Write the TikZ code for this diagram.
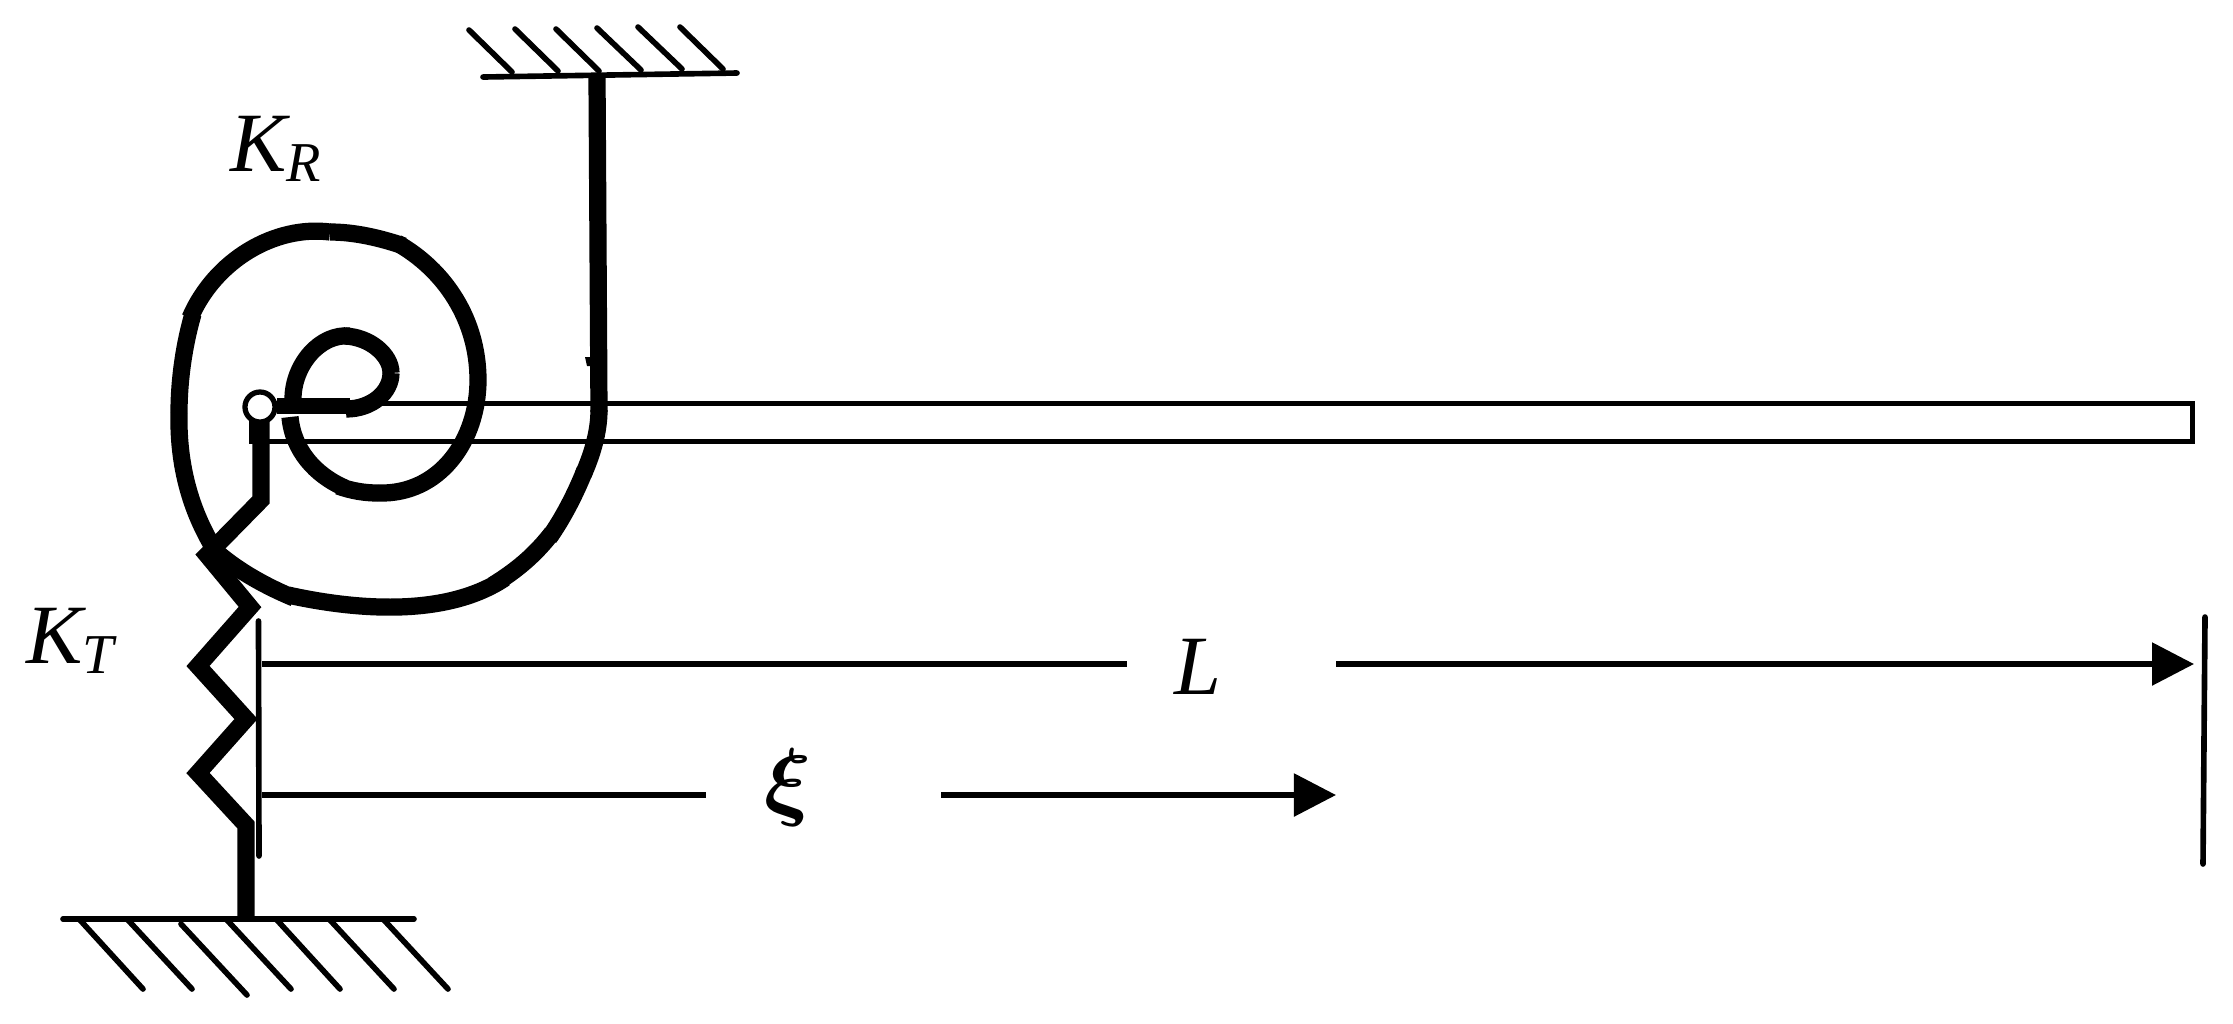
\documentclass[tikz,border=0pt]{standalone}
\usepackage{fontspec}
\setmainfont{Liberation Serif}
\usetikzlibrary{arrows.meta}
\tikzset{
    thinline/.style={line width=1.6pt,line cap=round},
    beamline/.style={line width=1.6pt},
    thickline/.style={line width=4.9pt},
    dimline/.style={line width=1.6pt},
    dimarrow/.style={line width=1.6pt,-{Triangle[length=0.42cm,width=0.42cm]}},
    symbol/.style={inner sep=0pt,anchor=base west,font=\fontsize{24}{24}\selectfont\itshape},
    pivot/.style={circle,draw,fill=white,line width=1.5pt,minimum size=0.3cm,inner sep=0pt},
}
\newcommand{\lowsub}[1]{\raisebox{-3pt}{\fontsize{16}{16}\selectfont #1}}
\begin{document}
\boldmath
\begin{tikzpicture}[x=0.01cm,y=-0.01cm]
    \useasboundingbox (0,0) rectangle (2233,1023);
    % beam
    \draw[beamline] (265,403.5) rectangle (2192.5,441.5);
    % upper wall
    \draw[thinline] (483,77) -- (737,73);
    \draw[thinline] (469,30) -- (512,72);
    \draw[thinline] (515,29) -- (558,71);
    \draw[thinline] (556,29) -- (599,71);
    \draw[thinline] (597,28) -- (641,70);
    \draw[thinline] (638,27) -- (682,69);
    \draw[thinline] (680,27) -- (723,69);
    % lower wall
    \draw[thinline] (63,919) -- (414,919);
    \draw[thinline] (80,920) -- (143,989);
    \draw[thinline] (128,920) -- (192,989);
    \draw[thinline] (181,924) -- (247,995);
    \draw[thinline] (227,920) -- (291,989);
    \draw[thinline] (277,920) -- (340,989);
    \draw[thinline] (330,920) -- (394,989);
    \draw[thinline] (384,920) -- (448,989);
    % rotational spring, outer turns
    \draw[thickline] (597,77) -- (599,412);
    \fill (585,357) -- (591,357) -- (591,366) -- (587,366) -- cycle;
    \draw[thickline] (599,410) .. controls (599,432) and (592,455) .. (583,475);
    \draw[thickline] (585,470) .. controls (575,495) and (563,518) .. (549,538);
    \draw[thickline] (552,533) .. controls (535,555) and (517,570) .. (493,585);
    \draw[thickline] (505,578) .. controls (450,615) and (365,612) .. (288,595);
    \draw[thickline] (294,598) .. controls (270,588) and (238,572) .. (212,548);
    \draw[thickline] (213,547) .. controls (188,505) and (178,460) .. (179,413);
    \draw[thickline] (179,413) .. controls (179,380) and (184,345) .. (193,314);
    \draw[thickline] (190,318) .. controls (215,260) and (275,225) .. (330,232);
    \draw[thickline] (330,232) .. controls (355,232) and (380,238) .. (404,246);
    % rotational spring, inner turns
    \draw[thickline] (397,243) .. controls (445,270) and (478,320) .. (478,380);
    \draw[thickline] (478,380) .. controls (478,440) and (440,495) .. (378,493);
    \draw[thickline] (378,493) .. controls (365,493) and (352,491) .. (338,486);
    \draw[thickline] (345,488) .. controls (315,475) and (293,450) .. (290,417);
    \draw[thickline] (293,399) .. controls (293,365) and (320,333) .. (350,336);
    \draw[thickline] (345,336) .. controls (370,337) and (391,355) .. (391,373);
    \draw[thickline] (391,373) .. controls (391,392) and (372,409) .. (346,409);
    \draw[line width=4.4pt] (277,406) -- (350,406);
    % translational spring
    \fill (249,420) rectangle (268,444);
    \draw[thickline] (261,420) -- (261,500) -- (207,555) -- (250,607) -- (198,666) -- (246,719) -- (198,773) -- (246,825) -- (246,917);
    \node[pivot] (hinge) at (260,407) {};
    % dimensions
    \draw[thinline] (258.5,621) -- (259,856);
    \draw[thinline] (2205,617) -- (2203,864);
    \coordinate (Lstart) at (262,664);
    \coordinate (Lgapa) at (1127,664);
    \coordinate (Lgapb) at (1336,664);
    \coordinate (Lend) at (2194,664);
    \coordinate (xistart) at (262,795);
    \coordinate (xigapa) at (706,795);
    \coordinate (xigapb) at (941,795);
    \coordinate (xiend) at (1336,795);
    \draw[dimline] (Lstart) -- (Lgapa);
    \draw[dimarrow] (Lgapb) -- (Lend);
    \draw[dimline] (xistart) -- (xigapa);
    \draw[dimarrow] (xigapb) -- (xiend);
    % labels
    \node[symbol] (KR) at (230,171) {K\lowsub{R}};
    \node[symbol] (KT) at (26,663) {K\lowsub{T}};
    \node[symbol] (L) at (1174,694) {L};
    \node[symbol,font=\fontsize{34}{34}\selectfont] (xi) at (764,809) {$\xi$};
\end{tikzpicture}
\end{document}
